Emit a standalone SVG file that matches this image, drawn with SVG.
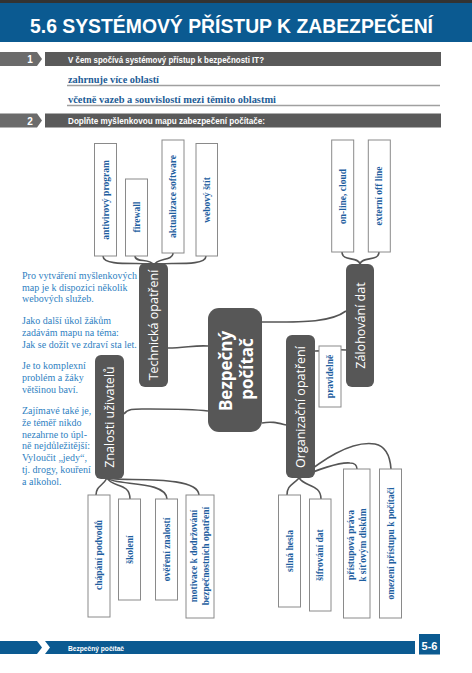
<svg xmlns="http://www.w3.org/2000/svg" width="472" height="673" viewBox="0 0 472 673">
<style>
.band{fill:#0b5a91}
.tab{fill:#6b6b6b}
.bar{fill:#5a5a5a}
.hdr{font-family:"Liberation Sans",Arial,sans-serif;font-weight:bold;fill:#fff}
.ans{font-family:"Liberation Serif","Times New Roman",serif;font-weight:bold;font-size:9.5px;fill:#1d5c96}
.uline{stroke:#a0a0a0;stroke-width:1.3}
.side{font-family:"Liberation Serif","Times New Roman",serif;font-size:10px;fill:#2f7fc2}
.node{fill:#575757}
.nt{font-family:"Open Sans","DejaVu Sans",sans-serif;font-size:12.5px;fill:#fff;text-anchor:middle;dominant-baseline:central}
.ct{font-family:"Open Sans","DejaVu Sans",sans-serif;font-size:17px;font-weight:bold;fill:#fff;text-anchor:middle;dominant-baseline:central}
.box{fill:#fff;stroke:#8a8a8a;stroke-width:1}
.bt{font-family:"Liberation Serif","Times New Roman",serif;font-weight:bold;font-size:9.5px;fill:#1f5f9f;text-anchor:middle;dominant-baseline:central}
.conn path{fill:none;stroke:#555;stroke-width:1.6}
</style>

<!-- header -->
<rect x="0" y="0" width="472" height="3" fill="#333"/>
<rect class="band" x="0" y="3" width="472" height="39"/>
<text class="hdr" x="30" y="33" font-size="19.5" textLength="403" lengthAdjust="spacingAndGlyphs">5.6 SYSTÉMOVÝ PŘÍSTUP K ZABEZPEČENÍ</text>

<polygon class="tab" points="0,52 37,52 42,59 37,66 0,66"/>
<rect class="bar" x="45" y="52" width="396" height="14"/>
<text class="hdr" x="30" y="63" font-size="10" text-anchor="middle">1</text>
<text class="hdr" x="68" y="62.5" font-size="8.5" textLength="196" lengthAdjust="spacingAndGlyphs">V čem spočívá systémový přístup k bezpečnosti IT?</text>

<text class="ans" x="68" y="82.5" textLength="91" lengthAdjust="spacingAndGlyphs">zahrnuje více oblastí</text>
<line class="uline" x1="67" y1="85.5" x2="440" y2="85.5"/>
<text class="ans" x="68" y="102.5" textLength="208" lengthAdjust="spacingAndGlyphs">včetně vazeb a souvislostí mezi těmito oblastmi</text>
<line class="uline" x1="67" y1="105.5" x2="440" y2="105.5"/>

<polygon class="tab" points="0,113.5 37,113.5 42,120.5 37,127.5 0,127.5"/>
<rect class="bar" x="45" y="113.5" width="396" height="14"/>
<text class="hdr" x="30" y="124.5" font-size="10" text-anchor="middle">2</text>
<text class="hdr" x="68" y="124" font-size="8.5" textLength="197" lengthAdjust="spacingAndGlyphs">Doplňte myšlenkovou mapu zabezpečení počítače:</text>

<!-- side text -->
<g class="side">
<text x="22" y="279">Pro vytváření myšlenkových</text>
<text x="22" y="290.7">map je k dispozici několik</text>
<text x="22" y="302.4">webových služeb.</text>
<text x="22" y="324.3">Jako další úkol žákům</text>
<text x="22" y="336">zadávám mapu na téma:</text>
<text x="22" y="347.7">Jak se dožít ve zdraví sta let.</text>
<text x="22" y="369.3">Je to komplexní</text>
<text x="22" y="381">problém a žáky</text>
<text x="22" y="392.7">většinou baví.</text>
<text x="22" y="414.3">Zajímavé také je,</text>
<text x="22" y="426">že téměř nikdo</text>
<text x="22" y="437.7">nezahrne to úpl-</text>
<text x="22" y="449.4">ně nejdůležitější:</text>
<text x="22" y="461.1">Vyloučit „jedy“,</text>
<text x="22" y="472.8">tj. drogy, kouření</text>
<text x="22" y="484.5">a alkohol.</text>
</g>

<!-- connectors -->
<g class="conn">
<path d="M103,256 C103,268 148,261 154,265"/>
<path d="M135,256 C135,263 150,258 154,265"/>
<path d="M173,253 C173,261 157,258 154,265"/>
<path d="M206,256 C206,268 160,261 154,265"/>
<path d="M168,348 C185,348 195,345 208,346"/>
<path d="M124,414 C128,408 135,409 150,409 C180,409 200,410 208,411"/>
<path d="M262,322 C300,322 330,323 346,311"/>
<path d="M262,423 C272,421 278,423 286,425"/>
<path d="M342,252 C342,262 358,256 360,264"/>
<path d="M379,252 C379,262 362,256 360,264"/>
<path d="M315,351 C325,351 335,349 346,350"/>
<path d="M107,478 C103,486 96,486 96,495"/>
<path d="M107,478 C112,488 130,482 130,499"/>
<path d="M107,478 C115,486 166,480 167,499"/>
<path d="M107,478 C120,482 198,474 199,495"/>
<path d="M299,478 C293,485 287,485 287,495"/>
<path d="M299,478 C305,487 321,484 321,499"/>
<path d="M300,478 C315,470 340,462 350,463 C355,463 357,466 357,469"/>
<path d="M300,478 C320,462 350,440 375,444 C385,446 390,455 391,469"/>
</g>

<!-- nodes -->
<g id="center">
<rect class="node" x="208" y="308" width="54" height="124" rx="11"/>
<text class="ct" transform="translate(225.5,371) rotate(-90)">Bezpečný</text>
<text class="ct" transform="translate(246.5,369) rotate(-90)">počítač</text>
</g>
<g id="technicka">
<rect class="node" x="139" y="263" width="29" height="124" rx="6"/>
<text class="nt" transform="translate(153.5,325) rotate(-90)">Technická opatření</text>
</g>
<g id="znalosti">
<rect class="node" x="95" y="355" width="29" height="124" rx="6"/>
<text class="nt" transform="translate(109.5,417) rotate(-90)">Znalosti uživatelů</text>
</g>
<g id="zalohovani">
<rect class="node" x="346" y="264" width="28" height="123" rx="6"/>
<text class="nt" transform="translate(360,325.5) rotate(-90)">Zálohování dat</text>
</g>
<g id="organizacni">
<rect class="node" x="286" y="335" width="29" height="143" rx="6"/>
<text class="nt" transform="translate(300.5,407) rotate(-90)">Organizační opatření</text>
</g>

<!-- leaf boxes -->
<g id="antivirovy"><rect class="box" x="94.5" y="143.5" width="22" height="112.5"/><text class="bt" transform="translate(105.5,200) rotate(-90)">antivirový program</text></g>
<g id="firewall"><rect class="box" x="125.5" y="179" width="22" height="77"/><text class="bt" transform="translate(136.5,217) rotate(-90)">firewall</text></g>
<g id="aktualizace"><rect class="box" x="162" y="140" width="22" height="113"/><text class="bt" transform="translate(173,196.5) rotate(-90)">aktualizace software</text></g>
<g id="webovy"><rect class="box" x="196" y="143.5" width="21.5" height="112.5"/><text class="bt" transform="translate(206.8,200) rotate(-90)">webový štít</text></g>

<g id="online"><rect class="box" x="331.7" y="140" width="22" height="112"/><text class="bt" transform="translate(342.7,196.5) rotate(-90)">on-line, cloud</text></g>
<g id="externi"><rect class="box" x="368.3" y="140" width="22" height="112"/><text class="bt" transform="translate(379.3,196) rotate(-90)">externí off line</text></g>

<g id="pravidelne"><rect class="box" x="319" y="346" width="22" height="61"/><text class="bt" transform="translate(330,376.5) rotate(-90)">pravidelně</text></g>

<g id="chapani"><rect class="box" x="88" y="495" width="22" height="122"/><text class="bt" transform="translate(99,555) rotate(-90)">chápání podvodů</text></g>
<g id="skoleni"><rect class="box" x="118.5" y="499" width="22" height="101"/><text class="bt" transform="translate(129.5,549.5) rotate(-90)">školení</text></g>
<g id="overeni"><rect class="box" x="155.5" y="499" width="22" height="101"/><text class="bt" transform="translate(166.5,549.5) rotate(-90)">ověření znalostí</text></g>
<g id="motivace"><rect class="box" x="186" y="495" width="28" height="123"/>
<text class="bt" transform="translate(194,556) rotate(-90)">motivace k dodržování</text>
<text class="bt" transform="translate(206,556) rotate(-90)">bezpečnostních opatření</text></g>

<g id="silna"><rect class="box" x="278.5" y="495" width="22" height="112"/><text class="bt" transform="translate(289.5,551) rotate(-90)">silná hesla</text></g>
<g id="sifrovani"><rect class="box" x="309.5" y="499" width="21.5" height="112"/><text class="bt" transform="translate(320.2,555) rotate(-90)">šifrování dat</text></g>
<g id="pristupova"><rect class="box" x="343.5" y="469" width="26.5" height="149"/>
<text class="bt" transform="translate(351,545) rotate(-90)">přístupová práva</text>
<text class="bt" transform="translate(362.5,545) rotate(-90)">k síťovým diskům</text></g>
<g id="omezeni"><rect class="box" x="379.5" y="469" width="22" height="149"/><text class="bt" transform="translate(390.5,543.5) rotate(-90)">omezení přístupu k počítači</text></g>

<!-- footer -->
<polygon class="band" points="0,641 37,641 42,647.5 37,654 0,654"/>
<polygon class="band" points="45,641 415,641 415,654 45,654 50,647.5"/>
<text class="hdr" x="68" y="651" font-size="8" textLength="56" lengthAdjust="spacingAndGlyphs">Bezpečný počítač</text>
<rect class="band" x="419" y="634" width="21" height="20.5"/>
<text class="hdr" x="429.5" y="649.5" font-size="11" text-anchor="middle">5-6</text>
</svg>
